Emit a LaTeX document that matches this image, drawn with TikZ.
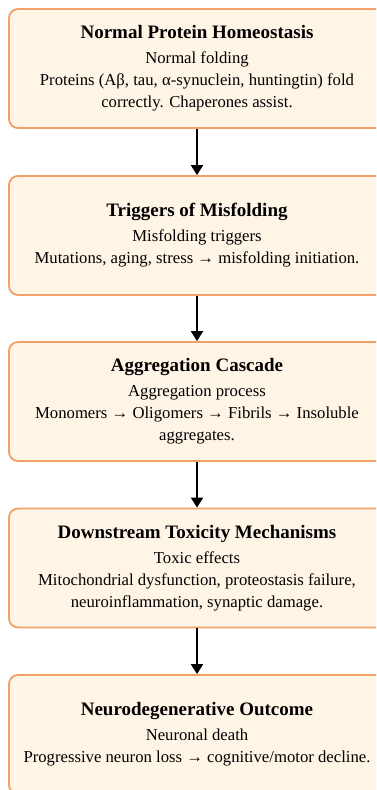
\documentclass[tikz,border=0pt]{standalone}
\usepackage{fontspec}
\setmainfont{Liberation Serif}
\usetikzlibrary{arrows.meta}
\definecolor{boxfill}{RGB}{255,245,230}
\definecolor{boxline}{RGB}{242,160,104}
\tikzset{
  stagebox/.style={draw=boxline, fill=boxfill, line width=1.8pt, rounded corners=9pt,
    minimum width=376pt, minimum height=119pt, inner sep=0pt, align=center,
    font=\fontsize{16.7}{22}\selectfont},
  flowarrow/.style={line width=2pt, -{Triangle[width=12pt,length=10pt]}},
}
\newcommand{\stagetitle}[1]{{\fontsize{19}{22}\selectfont\bfseries #1}\\[3pt]}
\begin{document}
\begin{tikzpicture}[x=1pt,y=1pt]
\useasboundingbox (0,0) rectangle (376,790);
\clip (0,0) rectangle (376,790);
\node[stagebox] (b1) at (197,721.5) {\stagetitle{Normal Protein Homeostasis}Normal folding\\Proteins (Aβ, tau, α-synuclein, huntingtin) fold\\correctly. Chaperones assist.};
\node[stagebox] (b2) at (197,554.5) {\stagetitle{Triggers of Misfolding}Misfolding triggers\\Mutations, aging, stress → misfolding initiation.};
\node[stagebox] (b3) at (197,388.5) {\stagetitle{Aggregation Cascade}Aggregation process\\Monomers → Oligomers → Fibrils → Insoluble\\aggregates.};
\node[stagebox] (b4) at (197,222) {\stagetitle{Downstream Toxicity Mechanisms}Toxic effects\\Mitochondrial dysfunction, proteostasis failure,\\neuroinflammation, synaptic damage.};
\node[stagebox] (b5) at (197,55.5) {\stagetitle{Neurodegenerative Outcome}Neuronal death\\Progressive neuron loss → cognitive/motor decline.};
\draw[flowarrow] (b1.south) -- (b2.north);
\draw[flowarrow] (b2.south) -- (b3.north);
\draw[flowarrow] (b3.south) -- (b4.north);
\draw[flowarrow] (b4.south) -- (b5.north);
\end{tikzpicture}
\end{document}
